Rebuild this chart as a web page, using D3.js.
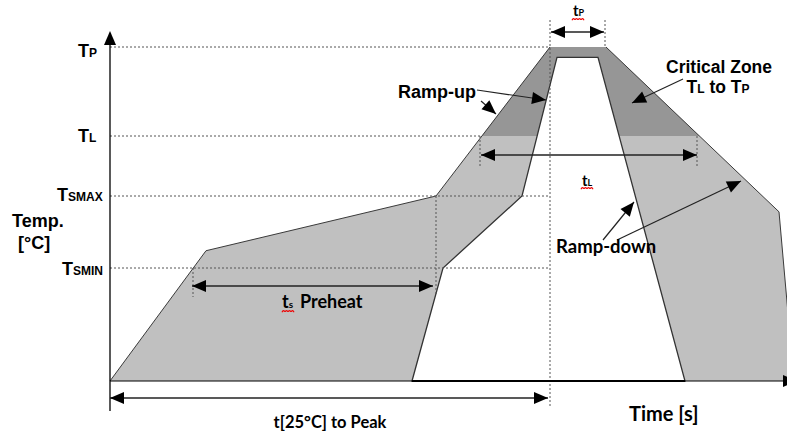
<!DOCTYPE html>
<html><head><meta charset="utf-8">
<script src="https://cdn.jsdelivr.net/npm/d3@7"></script>
<style>body{margin:0;background:#fff}</style>
</head><body>
<svg id="c" width="787" height="433"></svg>
<script>
// ---- data ----
const levelTemps = [25, 150, 200, 217, 260];          // T25, TSMIN, TSMAX, TL, TP (°C)
const labelTemps = [260, 217, 200, 150];
const labelMain  = ["T", "T", "T", "T"];
const labelSub   = ["P", "L", "SMAX", "SMIN"];
const outerTime = [0, 48, 163, 220, 248, 334.5, 342];   // max profile (s)
const outerTemp = [25, 162, 200, 260, 260, 189, 25];
const innerTime = [151, 166.5, 206, 223.5, 244, 287.5]; // min profile (s)
const innerTemp = [25, 150, 200, 255, 255, 25];
const tsSpan   = [41.5, 163];
const tLSpan   = [185, 293.5];
const tPSpan   = [220, 247.5];
const peakSpan = [0, 219];

// ---- scales ----
const svg = d3.select("#c");
const x = d3.scaleLinear().domain([0, 340]).range([110, 790]);
const y = d3.scaleLinear().domain(levelTemps).range([381, 268, 196, 136, 47]);

const ARIAL = "'Liberation Sans', Arial, sans-serif";
const LATO = "Lato, 'Liberation Sans', sans-serif";

const outerPts = outerTime.map((t, i) => [x(t), y(outerTemp[i])]);
const innerPts = innerTime.map((t, i) => [x(t), y(innerTemp[i])]);
const line = d3.line();

svg.append("defs").append("clipPath").attr("id", "crit")
  .append("rect").attr("x", 0).attr("y", y(260)).attr("width", 800).attr("height", y(217) - y(260));

svg.append("path").attr("d", line(outerPts) + "Z").attr("fill", "#c0c0c0");
svg.append("path").attr("d", line(outerPts) + "Z").attr("fill", "#969696").attr("clip-path", "url(#crit)");
svg.append("path").attr("d", line(outerPts.slice(0, 4))).attr("fill", "none").attr("stroke", "#3a3a3a").attr("stroke-width", 1);
svg.append("path").attr("d", line(outerPts.slice(4))).attr("fill", "none").attr("stroke", "#3a3a3a").attr("stroke-width", 1);
svg.append("path").attr("d", line(innerPts) + "Z").attr("fill", "#fff").attr("stroke", "#333").attr("stroke-width", 1.3);

// ---- dotted guides ----
const dot = (x1, y1, x2, y2) => svg.append("line").attr("x1", x1).attr("y1", y1).attr("x2", x2).attr("y2", y2)
  .attr("stroke", "#555").attr("stroke-width", 1).attr("stroke-dasharray", "2,2");
dot(x(0), y(260), x(tPSpan[0]), y(260));
dot(x(0), y(217), x(tLSpan[0]), y(217));
dot(x(0), y(200), x(tPSpan[0]), y(200));
dot(x(0), y(150), x(tPSpan[0]), y(150));
dot(x(tPSpan[0]), 20, x(tPSpan[0]), 408);
dot(x(tPSpan[1]), 20, x(tPSpan[1]), y(260));
dot(x(tsSpan[0]), y(150), x(tsSpan[0]), 297);
dot(x(tsSpan[1]), y(200), x(tsSpan[1]), 295);
dot(x(tLSpan[0]), y(217), x(tLSpan[0]), 168);
dot(x(tLSpan[1]), y(217), x(tLSpan[1]), 168);

// ---- axes ----
svg.append("line").attr("x1", x(0)).attr("y1", y(25)).attr("x2", 787).attr("y2", y(25)).attr("stroke", "#000").attr("stroke-width", 1.2);
svg.append("line").attr("x1", x(innerTime[0])).attr("y1", y(25)).attr("x2", x(innerTime[5])).attr("y2", y(25)).attr("stroke", "#000").attr("stroke-width", 2.2);
svg.append("line").attr("x1", x(0)).attr("y1", 411).attr("x2", x(0)).attr("y2", 40).attr("stroke", "#000").attr("stroke-width", 1.3);

function head(tx, ty, fx, fy, len = 14, hw = 6) {
  const a = Math.atan2(ty - fy, tx - fx);
  const bx = tx - len * Math.cos(a), by = ty - len * Math.sin(a);
  const px = -Math.sin(a) * hw, py = Math.cos(a) * hw;
  svg.append("path").attr("d", `M${tx},${ty}L${bx + px},${by + py}L${bx - px},${by - py}Z`).attr("fill", "#000");
}
function arrow(x1, y1, x2, y2, both, w = 1.3) {
  svg.append("line").attr("x1", x1).attr("y1", y1).attr("x2", x2).attr("y2", y2).attr("stroke", "#222").attr("stroke-width", w);
  head(x2, y2, x1, y1);
  if (both) head(x1, y1, x2, y2);
}
head(x(0), 31, x(0), 60, 14, 6);
head(797, y(25), 700, y(25), 14, 6);

arrow(x(tPSpan[0]) + 1, 32, x(tPSpan[1]) - 1, 32, true);
arrow(x(tLSpan[0]) + 1, 155, x(tLSpan[1]), 155, true);
arrow(x(tsSpan[0]) - 1, 286, x(tsSpan[1]) - 3, 286, true);
arrow(x(peakSpan[0]), 398, x(peakSpan[1]), 398, true);
// callouts
arrow(477, 90, 546, 100, false, 1.2);
arrow(481, 101, 496, 114, false, 1.2);
arrow(683, 79, 632, 103, false, 1.2);
arrow(603, 240, 634, 202, false, 1.2);
arrow(617, 240, 741, 181, false, 1.2);

// ---- text ----
function txt(s, xx, yy, size, fam, anchor = "start") {
  return svg.append("text").attr("x", xx).attr("y", yy).attr("font-family", fam).attr("font-weight", "bold")
    .attr("font-size", size).attr("text-anchor", anchor).attr("fill", "#000").text(s);
}
function subTxt(parts, xx, yy, size, subSize, fam, anchor = "start") {
  const t = svg.append("text").attr("x", xx).attr("y", yy).attr("font-family", fam).attr("font-weight", "bold")
    .attr("font-size", size).attr("text-anchor", anchor).attr("fill", "#000");
  parts.forEach(([s, isSub]) => {
    const sp = t.append("tspan").text(s);
    if (isSub) sp.attr("font-size", subSize);
  });
  return t;
}
function squiggle(x0, y0, w) {
  const pts = d3.range(0, w + 0.1, 1.5).map((d, i) => [x0 + d, y0 + (i % 2 ? -1.2 : 1.2)]);
  svg.append("path").attr("d", d3.line().curve(d3.curveBasis)(pts)).attr("fill", "none").attr("stroke", "#e00").attr("stroke-width", 1.2);
}

const labelX = [78, 78, 57, 62];
const labelDy = [10, 6, 5, 7];
labelTemps.forEach((t, i) => subTxt([[labelMain[i], false], [labelSub[i], true]], labelX[i], y(t) + labelDy[i], 18, 12, ARIAL));

txt("Temp.", 12, 227, 18, ARIAL);
txt("[°C]", 18, 249, 18, ARIAL);
txt("Ramp-up", 398, 98, 18, ARIAL);
txt("Critical Zone", 719, 73, 17.5, ARIAL, "middle");
subTxt([["T", false], ["L", true], [" to T", false], ["P", true]], 718, 93, 17.5, 12, ARIAL, "middle");

txt("Ramp-down", 556, 253, 18.5, LATO);
subTxt([["t", false], ["s", true]], 282, 308, 18, 10, LATO);
squiggle(282, 311, 12);
txt("Preheat", 300, 308, 18, LATO);
txt("t[25°C] to Peak", 330, 428, 16.5, LATO, "middle");
txt("Time [s]", 629, 421, 20, LATO);
subTxt([["t", false], ["P", true]], 573, 16, 15, 9, LATO);
squiggle(572, 19, 13);
subTxt([["t", false], ["L", true]], 582, 186, 15, 9, LATO);
squiggle(581, 188, 13);
</script>
</body></html>
